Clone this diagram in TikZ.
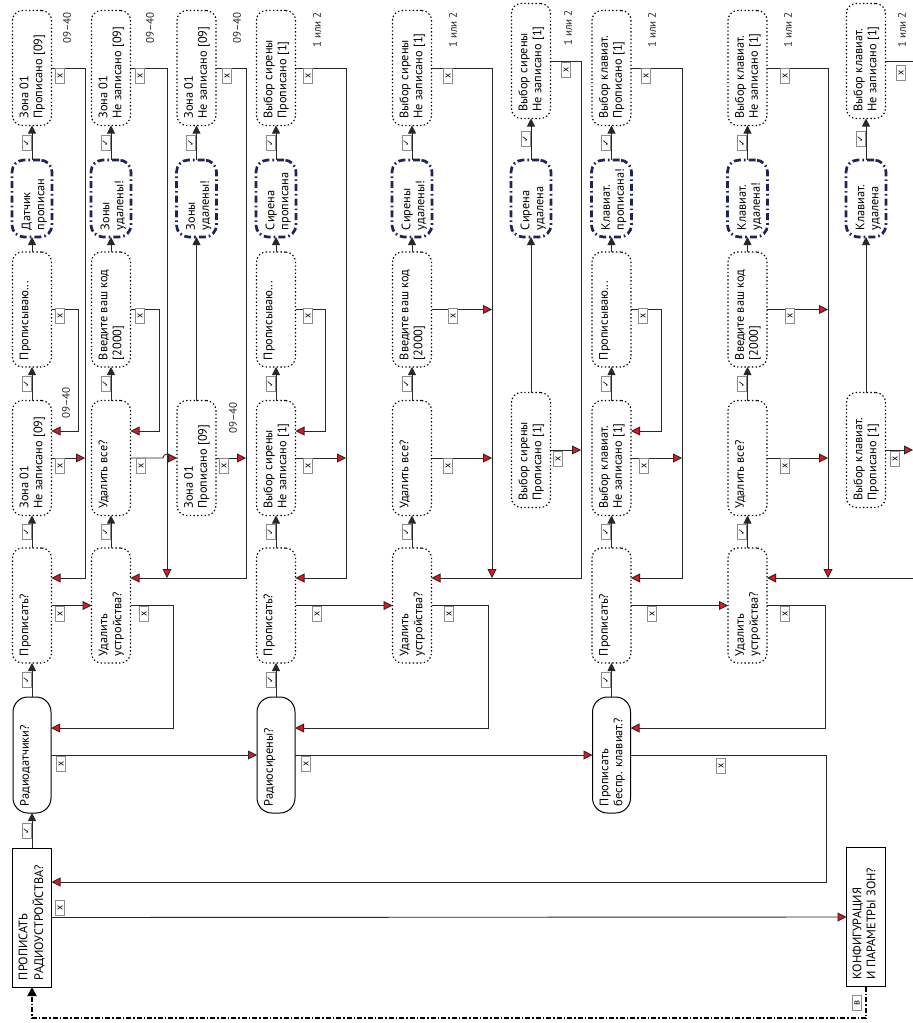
\documentclass[tikz,border=0pt]{standalone}
\usepackage{fontspec}
\setmainfont{PT Sans}
\newfontfamily\symf{DejaVu Sans}
\usepackage{graphicx}
\usetikzlibrary{arrows.meta,calc}
\definecolor{navyc}{RGB}{30,36,88}
\definecolor{redc}{RGB}{226,22,32}
\definecolor{lnc}{RGB}{40,40,40}
\newcounter{lbl}
\newcommand\tx[4]{\rotatebox{90}{\parbox[c][#2][t]{#1}{\raggedright\leftskip=7pt\parindent=0pt\vspace*{#3}\strut#4}}}
\newcommand\std[1]{\tx{115pt}{39pt}{6pt}{#1}}
\newcommand\nav[1]{\tx{77pt}{40pt}{8.5pt}{#1}}
\newcommand\rad[1]{\tx{116pt}{38pt}{6pt}{#1}}
\newcommand\mn[1]{\tx{139pt}{39pt}{5pt}{#1}}
\newcommand\ckl[1]{\stepcounter{lbl}\node[lab] (lb\arabic{lbl}) at (#1) {\rotatebox{90}{\symf\fontsize{8.5}{9}\selectfont ✓}};}
\newcommand\xl[1]{\stepcounter{lbl}\node[lab] (lb\arabic{lbl}) at (#1) {\rotatebox{90}{x}};}
\newcommand\yes[2]{\draw[yesarr] (#1.north) -- (#2.south); \ckl{$(#1.north)!0.5!(#2.south)+(-5.5,0)$}}
\tikzset{
 bxbase/.style={inner sep=0pt, outer sep=0pt, font=\fontsize{12.3}{14}\selectfont},
 dotbox/.style={bxbase, draw=black, line width=1.15pt, dash pattern=on 1.4pt off 2.3pt, rounded corners=10pt},
 navybox/.style={bxbase, draw=navyc, line width=2.7pt, dash pattern=on 7pt off 3pt on 1.6pt off 3pt, rounded corners=12pt},
 solidbox/.style={bxbase, draw=black, line width=1pt, rounded corners=15pt},
 mainbox/.style={bxbase, draw=black, line width=1pt},
 conn/.style={line width=0.9pt, draw=lnc},
 yesarr/.style={conn, -{Triangle[length=8pt,width=8pt]}},
 noarr/.style={conn, -{Triangle[length=9pt,width=9pt,fill=redc]}},
 retarr/.style={line width=1.8pt, draw=black, dash pattern=on 5pt off 2pt on 1.5pt off 2pt, -{Triangle[length=9pt,width=9pt]}},
 lab/.style={draw=black!45, fill=white, line width=0.6pt, inner sep=0pt, minimum width=9pt, minimum height=15pt, font=\fontsize{10}{11}\selectfont},
 notetxt/.style={rotate=90, anchor=east, inner sep=0pt, text=black!85, font=\fontsize{11}{12}\selectfont},
}
\begin{document}
\begin{tikzpicture}[x=1pt,y=-1pt]
\useasboundingbox (0,0) rectangle (913,1023);
% ---- coordinates of bus lines
\coordinate (b1) at (85,578);
\coordinate (a1) at (78,431);
\coordinate (b2) at (167,578);
\coordinate (b3) at (246,578);
\coordinate (a2) at (159,431);
\coordinate (b4) at (346,578);
\coordinate (a4) at (325,431);
\coordinate (b5) at (492,578);
\coordinate (b6) at (581,578);
\coordinate (b7) at (682,578);
\coordinate (a7) at (661,431);
\coordinate (b8) at (828,578);
\coordinate (b9) at (913,578);
\coordinate (c1) at (173,728);
\coordinate (c2) at (488,728);
\coordinate (c3) at (826,882);
\coordinate (c4) at (825,728);
\coordinate (d1) at (32,1018);
% ---- column 1
\node[mainbox] (pr) at (32,917.5) {\mn{ПРОПИСАТЬ\\РАДИОУСТРОЙСТВА?}};
\node[solidbox] (r1) at (32,755) {\rad{Радиодатчики?}};
\node[dotbox] (p1) at (32,605.5) {\std{Прописать?}};
\node[dotbox] (zn1) at (32,458) {\std{Зона 01\\Не записано [09]}};
\node[dotbox] (pw1) at (32,309.5) {\std{Прописываю...}};
\node[navybox] (nv1) at (32,198.5) {\nav{Датчик\\прописан}};
\node[dotbox] (zp1) at (32,68) {\std{Зона 01\\Прописано [09]}};
% ---- column 2
\node[dotbox] (du1) at (111,605.5) {\std{Удалить\\устройства?}};
\node[dotbox] (da1) at (111,458) {\std{Удалить все?}};
\node[dotbox] (vk1) at (111,309.5) {\std{Введите ваш код\\{[2000]}}};
\node[navybox] (nv2) at (111,198.5) {\nav{Зоны\\удалены!}};
\node[dotbox] (zn2) at (111,68) {\std{Зона 01\\Не записано [09]}};
% ---- column 3
\node[dotbox] (zp3) at (196.5,458) {\std{Зона 01\\Прописано [09]}};
\node[navybox] (nv3) at (196.5,198.5) {\nav{Зоны\\удалены!}};
\node[dotbox] (zn3) at (196.5,68) {\std{Зона 01\\Не записано [09]}};
% ---- column 4
\node[solidbox] (r2) at (276,755) {\rad{Радиосирены?}};
\node[dotbox] (p2) at (276,605.5) {\std{Прописать?}};
\node[dotbox] (sn4) at (276,458) {\std{Выбор сирены\\Не записано [1]}};
\node[dotbox] (pw4) at (276,309.5) {\std{Прописываю...}};
\node[navybox] (nv4) at (276,198.5) {\nav{Сирена\\прописана}};
\node[dotbox] (sp4) at (276,68) {\std{Выбор сирены\\Прописано [1]}};
% ---- column 5
\node[dotbox] (du5) at (412,605.5) {\std{Удалить\\устройства?}};
\node[dotbox] (da5) at (412,458) {\std{Удалить все?}};
\node[dotbox] (vk5) at (412,309.5) {\std{Введите ваш код\\{[2000]}}};
\node[navybox] (nv5) at (412,198.5) {\nav{Сирены\\удалены!}};
\node[dotbox] (sn5) at (412,68) {\std{Выбор сирены\\Не записано [1]}};
% ---- column 6
\node[dotbox] (sp6) at (531,450) {\std{Выбор сирены\\Прописано [1]}};
\node[navybox] (nv6) at (531,198.5) {\nav{Сирена\\удалена}};
\node[dotbox] (sn6) at (531,61) {\std{Выбор сирены\\Не записано [1]}};
% ---- column 7
\node[solidbox] (r3) at (611.5,755) {\rad{Прописать\\беспр. клавиат.?}};
\node[dotbox] (p3) at (611.5,605.5) {\std{Прописать?}};
\node[dotbox] (kn7) at (611.5,458) {\std{Выбор клавиат.\\Не записано [1]}};
\node[dotbox] (pw7) at (611.5,309.5) {\std{Прописываю...}};
\node[navybox] (nv7) at (611.5,198.5) {\nav{Клавиат.\\прописана!}};
\node[dotbox] (kp7) at (611.5,68) {\std{Выбор клавиат.\\Прописано [1]}};
% ---- column 8
\node[dotbox] (du8) at (747.5,605.5) {\std{Удалить\\устройства?}};
\node[dotbox] (da8) at (747.5,458) {\std{Удалить все?}};
\node[dotbox] (vk8) at (747.5,309.5) {\std{Введите ваш код\\{[2000]}}};
\node[navybox] (nv8) at (747.5,198.5) {\nav{Клавиат.\\удалена!}};
\node[dotbox] (kn8) at (747.5,68) {\std{Выбор клавиат.\\Не записано [1]}};
% ---- column 9
\node[dotbox] (kp9) at (866,450) {\std{Выбор клавиат.\\Прописано [1]}};
\node[navybox] (nv9) at (866,198.5) {\nav{Клавиат.\\удалена}};
\node[dotbox] (kn9) at (866,61) {\std{Выбор клавиат.\\Не записано [1]}};
\node[mainbox] (cfg) at (866,917) {\mn{КОНФИГУРАЦИЯ\\И ПАРАМЕТРЫ ЗОН?}};
% ---- range notes
\node[notetxt] (t1) at (67,12) {09–40};
\node[notetxt] (t2) at (150,12) {09–40};
\node[notetxt] (t3) at (237,12) {09–40};
\node[notetxt] (t4) at (66,387) {09–40};
\node[notetxt] (t5) at (233,402) {09–40};
\node[notetxt] (t6) at (317,12) {1 или 2};
\node[notetxt] (t7) at (453,12) {1 или 2};
\node[notetxt] (t8) at (568,10) {1 или 2};
\node[notetxt] (t9) at (652,12) {1 или 2};
\node[notetxt] (t10) at (788,12) {1 или 2};
\node[notetxt] (t11) at (902,12) {1 или 2};
% ---- yes connectors
\yes{pr}{r1} \yes{r1}{p1} \yes{p1}{zn1} \yes{zn1}{pw1}
\draw[yesarr] (pw1.north) -- (nv1.south); \yes{nv1}{zp1}
\yes{du1}{da1} \yes{da1}{vk1}
\draw[yesarr] (vk1.north) -- (nv2.south); \yes{nv2}{zn2}
\draw[yesarr] (zp3.north) -- (nv3.south); \yes{nv3}{zn3}
\yes{r2}{p2} \yes{p2}{sn4} \yes{sn4}{pw4}
\draw[yesarr] (pw4.north) -- (nv4.south); \yes{nv4}{sp4}
\yes{du5}{da5} \yes{da5}{vk5}
\draw[yesarr] (vk5.north) -- (nv5.south); \yes{nv5}{sn5}
\draw[yesarr] (sp6.north) -- (nv6.south); \yes{nv6}{sn6}
\yes{r3}{p3} \yes{p3}{kn7} \yes{kn7}{pw7}
\draw[yesarr] (pw7.north) -- (nv7.south); \yes{nv7}{kp7}
\yes{du8}{da8} \yes{da8}{vk8}
\draw[yesarr] (vk8.north) -- (nv8.south); \yes{nv8}{kn8}
\draw[yesarr] (kp9.north) -- (nv9.south); \yes{nv9}{kn9}
% ---- no connectors: main level
\draw[noarr] (pr.east) -- (cfg.west); \xl{60,908}
\draw[noarr] (r1.east) -- (r2.west); \xl{61,764}
\draw[noarr] (r2.east) -- (r3.west); \xl{306,764}
\draw[noarr] (r3.east) -| (c3) -- ($(pr.east)+(0,-35.5)$); \xl{721,766}
\draw[noarr] (p1.east) -- (du1.west); \xl{60,614}
\draw[noarr] (du1.east) -| (c1) -- ($(r1.east)+(0,-27)$); \xl{144,614}
\draw[noarr] (p2.east) -- (du5.west); \xl{317,614}
\draw[noarr] (du5.east) -| (c2) -- ($(r2.east)+(0,-27)$); \xl{449,614}
\draw[noarr] (p3.east) -- (du8.west); \xl{652,614}
\draw[noarr] (du8.east) -| (c4) -- ($(r3.east)+(0,-27)$); \xl{785,614}
% ---- block 1
\draw[noarr] (zp1.east) -| (b1) -- ($(p1.east)+(0,-27.5)$); \xl{60,76}
\draw[noarr] (zn1.east) -- (zn1.east -| b1); \xl{60,466}
\draw[noarr] (pw1.east) -| (a1) -- ($(zn1.east)+(0,-27)$); \xl{60,316}
\draw[noarr] (zn2.east) -| (b2); \xl{140,76}
\draw[noarr] (zn3.east) -| (b3) -- ($(du1.east)+(0,-27.5)$); \xl{227,76}
\draw[noarr] (vk1.east) -| (a2) -- ($(da1.east)+(0,-27)$); \xl{140,316}
\draw[noarr] (da1.east) -- ($(da1.east -| b2)+(-4,0)$) arc[start angle=180,end angle=360,radius=4] -- (zp3.west); \xl{141,466}
\draw[noarr] (zp3.east) -- (zp3.east -| b3); \xl{224,466}
% ---- block 2
\draw[noarr] (sp4.east) -| (b4) -- ($(p2.east)+(0,-27.5)$); \xl{308,76}
\draw[noarr] (sn4.east) -- (sn4.east -| b4); \xl{308,466}
\draw[noarr] (pw4.east) -| (a4) -- ($(sn4.east)+(0,-27)$); \xl{308,316}
\draw[noarr] (sn5.east) -| (b5); \xl{448,76}
\draw[noarr] (vk5.east) -- (vk5.east -| b5); \xl{453,316}
\draw[noarr] (da5.east) -- (da5.east -| b5); \xl{448,466}
\draw[noarr] (sn6.east) -| (b6) -- ($(du5.east)+(0,-27.5)$); \xl{566,70}
\draw[noarr] (sp6.east) -- (sp6.east -| b6); \xl{558,459}
% ---- block 3
\draw[noarr] (kp7.east) -| (b7) -- ($(p3.east)+(0,-27.5)$); \xl{646,76}
\draw[noarr] (kn7.east) -- (kn7.east -| b7); \xl{644,466}
\draw[noarr] (pw7.east) -| (a7) -- ($(kn7.east)+(0,-27)$); \xl{643,316}
\draw[noarr] (kn8.east) -| (b8); \xl{785,76}
\draw[noarr] (vk8.east) -- (vk8.east -| b8); \xl{790,316}
\draw[noarr] (da8.east) -- (da8.east -| b8); \xl{785,466}
\draw[noarr] (b9) -- ($(du8.east)+(0,-27.5)$);
\draw[noarr] (kp9.east) -- (kp9.east -| b9); \xl{895,459}
\draw[conn] (kn9.east) -- (kn9.east -| b9); \xl{901,73}
% ---- return (back) path
\draw[retarr] (cfg.south) -- (cfg.south |- d1) -- (d1) -- (pr.south);
\node[lab] (lbv) at (857,1003) {\rotatebox{90}{в}};
\end{tikzpicture}
\end{document}
